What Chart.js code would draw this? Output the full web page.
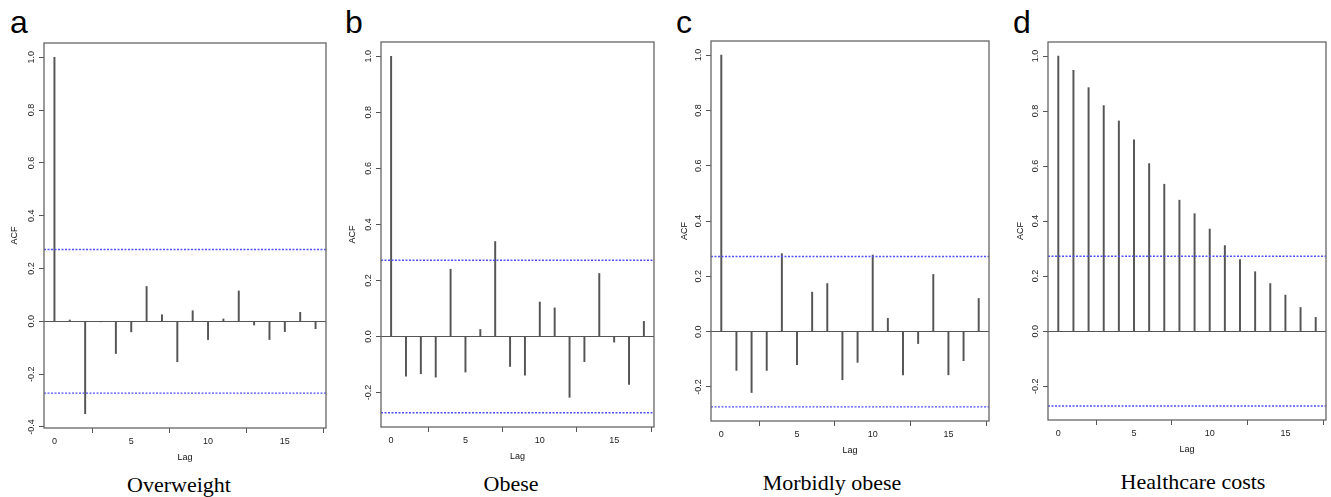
<!DOCTYPE html>
<html>
<head>
<meta charset="utf-8">
<script src="https://cdn.jsdelivr.net/npm/chart.js@4.4.0/dist/chart.umd.min.js"></script>
<style>
body { margin: 0; background: #fff; width: 1331px; height: 497px; position: relative; overflow: hidden; }
canvas { position: absolute; }
.letter { position: absolute; font-family: "Liberation Sans", Arial, sans-serif; font-size: 32px; line-height: 32px; color: #000; }
.caption { position: absolute; font-family: "Liberation Serif", "Times New Roman", serif; font-size: 22px; line-height: 22px; color: #000; transform: translateX(-50%); white-space: nowrap; }
</style>
</head>
<body>
<div class="letter" style="left:10px; top:6px;">a</div>
<div class="letter" style="left:345px; top:6px;">b</div>
<div class="letter" style="left:676px; top:6px;">c</div>
<div class="letter" style="left:1013px; top:6px;">d</div>
<div class="caption" style="left:179px; top:474px;">Overweight</div>
<div class="caption" style="left:511px; top:473px;">Obese</div>
<div class="caption" style="left:832px; top:472px;">Morbidly obese</div>
<div class="caption" style="left:1193px; top:471px;">Healthcare costs</div>
<script>
// data
const lags = [0, 1, 2, 3, 4, 5, 6, 7, 8, 9, 10, 11, 12, 13, 14, 15, 16, 17];
const overweightAcf = [1.0, 0.005, -0.35, -0.002, -0.122, -0.04, 0.132, 0.025, -0.153, 0.04, -0.069, 0.009, 0.115, -0.014, -0.069, -0.039, 0.034, -0.028];
const obeseAcf = [1.0, -0.142, -0.133, -0.145, 0.24, -0.127, 0.025, 0.339, -0.107, -0.138, 0.123, 0.102, -0.217, -0.09, 0.225, -0.02, -0.171, 0.054];
const morbidlyObeseAcf = [1.0, -0.14, -0.22, -0.14, 0.282, -0.119, 0.143, 0.174, -0.174, -0.111, 0.277, 0.048, -0.156, -0.043, 0.207, -0.156, -0.105, 0.12];
const healthcareCostsAcf = [1.0, 0.948, 0.885, 0.82, 0.764, 0.695, 0.609, 0.534, 0.476, 0.427, 0.371, 0.311, 0.26, 0.216, 0.173, 0.131, 0.086, 0.05];
const confLimit = 0.272;
const lagTicks = [0, 5, 10, 15];
const acfTicksWide = [-0.4, -0.2, 0, 0.2, 0.4, 0.6, 0.8, 1.0];
const acfTicks = [-0.2, 0, 0.2, 0.4, 0.6, 0.8, 1.0];

const lagMin = -0.68;
const lagMax = 17.68;

Chart.defaults.font.family = '"Liberation Sans", Arial, sans-serif';

const boxPlugin = {
    id: 'box',
    afterDraw(chart) {
        let ctx = chart.ctx;
        let a = chart.chartArea;
        ctx.save();
        ctx.strokeStyle = '#666';
        ctx.lineWidth = 1.3;
        ctx.strokeRect(a.left, a.top, a.right - a.left, a.bottom - a.top);
        ctx.restore();
    }
};

function manageAcfChart(box, values, yTicks, yMin, yMax, acfPad) {
    let canvas = document.createElement('canvas');
    canvas.width = box.r - box.l + 46;
    canvas.height = box.b - box.t + 50;
    canvas.style.left = (box.l - 42) + 'px';
    canvas.style.top = (box.t - 8) + 'px';
    document.body.appendChild(canvas);
    let ctx = canvas.getContext('2d');
    let limitLine = function (v) {
        return {
            type: 'line',
            data: [{x: lagMin, y: v}, {x: lagMax, y: v}],
            borderColor: '#5050ff',
            borderWidth: 1.4,
            borderDash: [2, 1.5],
            pointRadius: 0,
            order: 1
        };
    };
    new Chart(ctx, {
        type: 'bar',
        data: {
            datasets: [{
                type: 'bar',
                data: lags.map((lag, i) => ({x: lag, y: values[i]})),
                backgroundColor: '#555',
                borderWidth: 0,
                barThickness: 1.3,
                order: 2
            }, limitLine(confLimit), limitLine(-confLimit)]
        },
        options: {
            responsive: false,
            animation: false,
            layout: {padding: {top: 8, right: 4, left: 0, bottom: 0}},
            plugins: {legend: {display: false}, tooltip: {enabled: false}},
            scales: {
                x: {
                    type: 'linear',
                    min: lagMin,
                    max: lagMax,
                    offset: false,
                    afterBuildTicks: s => { s.ticks = lagTicks.map(v => ({value: v})); },
                    afterFit: s => { s.height = 42; },
                    border: {display: false},
                    grid: {drawOnChartArea: false, tickLength: 5, tickColor: '#555', lineWidth: 1},
                    ticks: {padding: 3, color: '#222', font: {size: 9}, maxRotation: 0, callback: v => String(v)},
                    title: {display: true, text: 'Lag', color: '#111', font: {size: 9}, padding: {top: 0, bottom: 6.6}}
                },
                y: {
                    min: yMin,
                    max: yMax,
                    afterBuildTicks: s => { s.ticks = yTicks.map(v => ({value: v})); },
                    afterFit: s => { s.width = 42; },
                    border: {display: false},
                    grid: {
                        color: c => (c.tick && c.tick.value === 0) ? '#555' : 'rgba(0,0,0,0)',
                        tickColor: '#555',
                        tickLength: 5,
                        lineWidth: 1
                    },
                    ticks: {minRotation: 90, maxRotation: 90, crossAlign: 'center', padding: 0, color: '#222', font: {size: 9}, callback: v => v.toFixed(1)},
                    title: {display: true, text: 'ACF', color: '#111', font: {size: 9}, padding: {top: acfPad, bottom: 0}}
                }
            }
        },
        plugins: [boxPlugin]
    });
}

manageAcfChart({l: 44, t: 43, r: 326, b: 428}, overweightAcf, acfTicksWide, -0.404, 1.054, 7.6);
manageAcfChart({l: 381, t: 42, r: 654, b: 427}, obeseAcf, acfTicks, -0.323, 1.051, 8.1);
manageAcfChart({l: 711, t: 41, r: 989, b: 421}, morbidlyObeseAcf, acfTicks, -0.323, 1.051, 10.6);
manageAcfChart({l: 1048, t: 42, r: 1326, b: 420}, healthcareCostsAcf, acfTicks, -0.323, 1.051, 9.5);
</script>
</body>
</html>
